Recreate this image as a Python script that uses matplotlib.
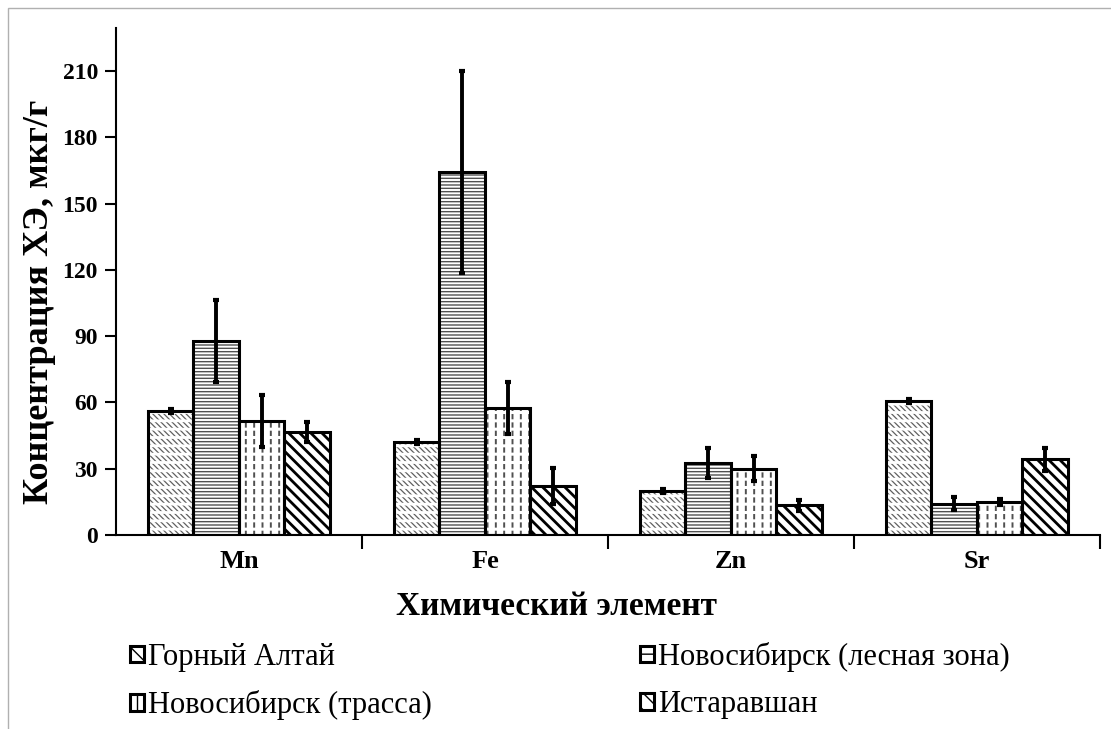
import matplotlib
matplotlib.use("Agg")
import matplotlib.pyplot as plt
from matplotlib.patches import Rectangle, Patch
import numpy as np

elements = ["Mn", "Fe", "Zn", "Sr"]
sites = ["Горный Алтай", "Новосибирск (лесная зона)", "Новосибирск (трасса)", "Истаравшан"]

gorny_altai = [56.2, 42.1, 19.8, 60.7]
nsk_forest = [87.8, 164.5, 32.7, 14.2]
nsk_road = [51.6, 57.5, 30.1, 15.0]
istaravshan = [46.7, 22.1, 13.4, 34.2]

err_gorny = [1.0, 1.0, 1.0, 1.0]
err_forest = [18.4, 45.7, 6.8, 3.0]
err_road = [11.9, 11.8, 5.8, 1.5]
err_istar = [4.5, 8.1, 2.4, 5.3]

values = [gorny_altai, nsk_forest, nsk_road, istaravshan]
errors = [err_gorny, err_forest, err_road, err_istar]

# hatch look for every series: (pattern, colour, width), plus white breaks on top
hatches = ["\\\\\\\\\\\\", "-----", "||", "\\\\\\"]
hatch_colors = ["#606060", "#505050", "#505050", "#000000"]
hatch_widths = [0.9, 1.0, 1.4, 2.0]
breaks = ["--", None, "--", None]
break_widths = [2.0, None, 2.2, None]

plt.rcParams["font.family"] = ["Liberation Serif", "DejaVu Serif"]

fig = plt.figure(figsize=(11.11, 7.29), dpi=100)
ax = fig.add_axes([0.1044, 0.2661, 0.8856, 0.6955])


def hatched(pos, h, hatch, color, lw, z):
    with plt.rc_context({"hatch.linewidth": lw}):
        bars = ax.bar(pos, h, w, facecolor="none", edgecolor=color,
                      linewidth=0, hatch=hatch, zorder=z)
        for p in bars:
            if hasattr(p, "set_hatch_linewidth"):
                p.set_hatch_linewidth(lw)
    return bars


x = np.arange(len(elements))
w = 0.185
handles = []
for j in range(4):
    pos = x + (j - 1.5) * w
    ax.bar(pos, values[j], w, color="white", linewidth=0, zorder=1)
    hatched(pos, values[j], hatches[j], hatch_colors[j], hatch_widths[j], 2)
    if breaks[j]:
        hatched(pos, values[j], breaks[j], "white", break_widths[j], 2.5)
    ax.bar(pos, values[j], w, fill=False, edgecolor="black", linewidth=2.2, zorder=3)
    ax.errorbar(pos, values[j], yerr=errors[j], fmt="none", ecolor="black",
                elinewidth=2.8, capsize=2.5, capthick=3, zorder=4)
    with plt.rc_context({"hatch.linewidth": 1.2}):
        h = Patch(facecolor="white", edgecolor="black", linewidth=2.2, hatch=hatches[j][:2])
    handles.append(h)

ax.set_xlim(-0.5, 3.5)
ax.set_ylim(0, 229.5)
ax.set_yticks(np.arange(0, 211, 30))
ax.set_xticks(x)
ax.set_xticklabels(elements, fontsize=19, fontweight="bold")
ax.set_xticks([0.5, 1.5, 2.5, 3.5], minor=True)
ax.tick_params(axis="x", which="major", length=0, pad=11)
ax.tick_params(axis="x", which="minor", length=10, width=1.5, direction="out")
ax.tick_params(axis="y", length=8, width=1.5, direction="out", labelsize=17, pad=5)
for t in ax.get_yticklabels():
    t.set_fontweight("bold")

for s in ["top", "right"]:
    ax.spines[s].set_visible(False)
ax.spines["left"].set_linewidth(1.5)
ax.spines["bottom"].set_linewidth(1.5)

ax.set_ylabel("Концентрация ХЭ, мкг/г", fontsize=26, fontweight="bold")
ax.yaxis.set_label_coords(-0.061, 0.46)
ax.set_xlabel("Химический элемент", fontsize=24, fontweight="bold")
ax.xaxis.set_label_coords(0.448, -0.111)

order = [0, 2, 1, 3]
fig.legend([handles[i] for i in order], [sites[i] for i in order],
           loc="upper left", bbox_to_anchor=(0.106, 0.136), ncol=2, frameon=False,
           fontsize=22, handlelength=0.45, handleheight=0.45, handletextpad=0.15,
           columnspacing=6.8, labelspacing=0.6, borderaxespad=0)

fig.add_artist(Rectangle((8 / 1111, -1), 2, 2 - 8 / 729, transform=fig.transFigure,
                         fill=False, edgecolor="#b0b0b0", linewidth=1))

fig.savefig("out.png", dpi=100)
